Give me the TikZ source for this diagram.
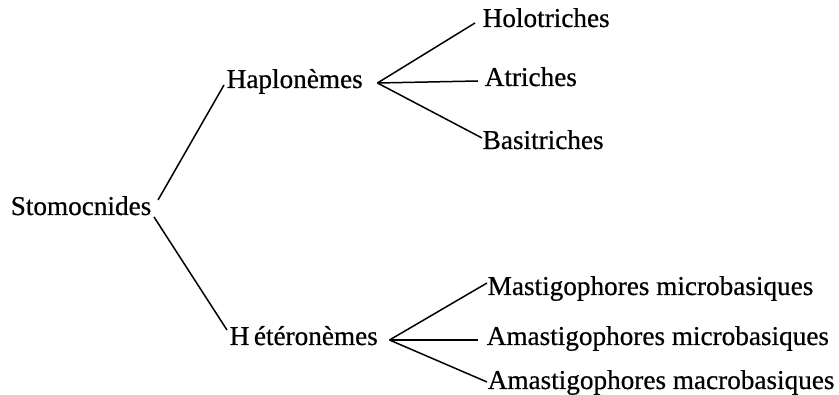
\documentclass[tikz,border=0pt]{standalone}
\usepackage{fontspec}
\setmainfont{Liberation Serif}
\newfontfamily\taxfam{Liberation Serif}[FakeBold=0.6]
\usepackage{tikz}
\usetikzlibrary{positioning}

\newcommand{\taxfont}{\taxfam\fontsize{27.2}{33}\selectfont}

\begin{document}
\begin{tikzpicture}[x=1pt,y=-1pt,line width=1.5pt,
  every node/.style={font=\taxfont,inner sep=2pt,anchor=base west}]
				\useasboundingbox (0,0) rectangle (839,395);
				\node (stom) at (8,215) {Stomocnides};
				\node (haplo) at (224,88) {Haplonèmes};
				\node (hetero) at (227,345) {H\,étéronèmes};
				\node (holo) at (480,27) {Holotriches};
				\node (atri) at (482,86) {Atriches};
				\node (basi) at (480,149) {Basitriches};
				\node (mast) at (485,295) {Mastigophores microbasiques};
				\node (amicro) at (484,345) {Amastigophores microbasiques};
				\node (amacro) at (485,389) {Amastigophores macrobasiques};
				\coordinate (hapfork) at ([xshift=12pt,yshift=5pt]haplo.base east);
				\coordinate (hetfork) at ([xshift=9pt,yshift=5pt]hetero.base east);
				\path
				([xshift=4pt,yshift=15pt]stom.base east)
				edge ([yshift=3pt]haplo.base west)
				([yshift=-2pt]stom.base east)
				edge ([yshift=15pt]hetero.base west)
				(hapfork)
				edge ([xshift=-5pt,yshift=4pt]holo.base west)
				edge ([xshift=-4pt,yshift=5pt]atri.base west)
				edge ([xshift=2pt,yshift=11pt]basi.base west)
				(hetfork)
				edge ([xshift=2pt,yshift=12pt]mast.base west)
				edge ([xshift=-6pt,yshift=5pt]amicro.base west)
				edge ([xshift=2pt,yshift=7pt]amacro.base west);
			\end{tikzpicture}
\end{document}
